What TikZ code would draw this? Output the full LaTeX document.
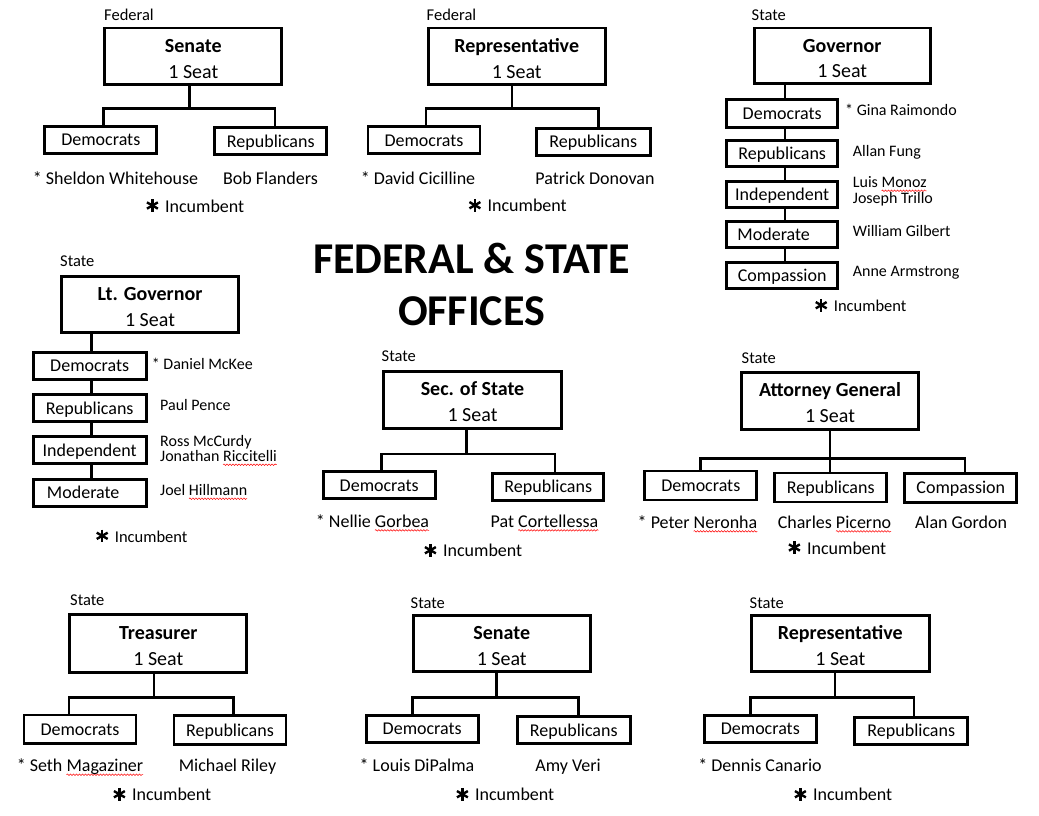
\documentclass[tikz,border=0pt]{standalone}
\usepackage{fontspec}
\setmainfont{Carlito}
\usetikzlibrary{decorations.pathmorphing}
\newdimen\sqwd
\newsavebox\sqwbox
\newcommand\sqw[1]{\leavevmode\sbox\sqwbox{#1}\sqwd=\wd\sqwbox\rlap{\tikz[overlay, baseline=0pt]\draw[red, line width=0.5pt, decorate, decoration={snake, amplitude=0.8pt, segment length=3pt}] (0pt,-3pt) -- (\sqwd,-3pt);}\usebox\sqwbox}
\newcommand\incmark{\tikz[baseline=0pt]{\foreach \a in {90,30,-30}\draw[line width=2.4pt, yshift=6.5pt] (\a:6.3pt) -- (\a+180:6.3pt);}\hspace{6pt}Incumbent}
\tikzset{
  big/.style={draw, line width=2.8pt, fill=white, align=center, inner sep=0pt,
    font=\fontsize{20}{25.6}\selectfont, text height=43.6pt, text depth=0pt},
  party/.style={draw, line width=2.8pt, fill=white, inner sep=0pt,
    minimum width=112, minimum height=27,
    font=\fontsize{18}{20}\selectfont, text height=12pt, text depth=0pt},
  conn/.style={line width=2.8pt},
  tag/.style={anchor=base west, inner sep=0pt, font=\fontsize{16.5}{18}\selectfont},
  cand/.style={anchor=base, inner sep=0pt, font=\fontsize{18}{20}\selectfont},
  side/.style={anchor=base west, inner sep=0pt, align=left, font=\fontsize{16}{15.5}\selectfont},
  inc/.style={anchor=base, inner sep=0pt, font=\fontsize{18}{20}\selectfont},
  incs/.style={anchor=base, inner sep=0pt, font=\fontsize{16.5}{18}\selectfont},
  title/.style={anchor=base, inner sep=0pt, align=center, font=\bfseries\fontsize{44}{51.7}\selectfont},
}
% #1 prefix, #2 stem xshift, #3 bar y, #4 dem xshift, #5 rep xshift
\newcommand\tree[5]{%
  \coordinate (#1-s) at ([xshift=#2]#1.south);
  \coordinate (#1-b) at (0,#3);
  \coordinate (#1-d) at ([xshift=#4]#1D.north);
  \coordinate (#1-r) at ([xshift=#5]#1R.north);
  \draw[conn] (#1-s) -- (#1-s |- #1-b);
  \draw[conn] (#1-d) |- (#1-r |- #1-b) -- (#1-r);
}
\begin{document}
\begin{tikzpicture}[x=1pt,y=-1pt]
\useasboundingbox (0,0) rectangle (1039,815);
\fill[white] (0,0) rectangle (1039,815);

% Title (base anchor = last line)
\node[title] (title) at (471.5,325) {FEDERAL \& STATE\\OFFICES};

% ---------- Federal Senate ----------
\node[tag] (fsT) at (104,20.7) {Federal};
\node[big, minimum width=177, minimum height=56.5] (fs) at (193.3,56.3) {\textbf{Senate}\\1 Seat};
\node[party] (fsD) at (100.8,139.7) {Democrats};
\node[party] (fsR) at (270.8,141.2) {Republicans};
\tree{fs}{-4}{108.3}{2.5}{4.2}
\node[cand] (fsDn) at (115.5,184) {* Sheldon Whitehouse};
\node[cand] (fsRn) at (270.5,184) {Bob Flanders};
\node[inc] (fsI) at (195,212) {\incmark};

% ---------- Federal Representative ----------
\node[tag] (frT) at (426.5,20.7) {Federal};
\node[big, minimum width=177, minimum height=56.5] (fr) at (516.7,56.3) {\textbf{Representative}\\1 Seat};
\node[party] (frD) at (424,140) {Democrats};
\node[party, minimum width=114] (frR) at (593.3,141.7) {Republicans};
\tree{fr}{-4.7}{108.3}{2}{5}
\node[cand] (frDn) at (418,184) {* David Cicilline};
\node[cand] (frRn) at (595,184) {Patrick Donovan};
\node[inc] (frI) at (517.5,211.7) {\incmark};

% ---------- Governor ----------
\node[tag] (govT) at (751.5,20.7) {State};
\node[big, minimum width=176, minimum height=55.5] (gov) at (842.2,55.8) {\textbf{Governor}\\1 Seat};
\node[party, minimum width=111, minimum height=28] (govD) at (782.2,113.8) {Democrats};
\node[party, minimum width=111, minimum height=26] (govR) at (782.2,153.8) {Republicans};
\node[party, minimum width=111, minimum height=26] (govI) at (782.2,194.2) {Independent};
\node[party, minimum width=111, minimum height=26] (govM) at (782.2,234.7) {Moderate\hspace*{17pt}};
\node[party, minimum width=111, minimum height=26] (govC) at (782.2,275.8) {Compassion};
\coordinate (govx) at (785,0);
\foreach \a/\b in {gov/govD, govD/govR, govR/govI, govI/govM, govM/govC}
  \draw[conn] (\a.south -| govx) -- (\b.north -| govx);
\node[side] (govDn) at (845,115) {* Gina Raimondo};
\node[side] (govRn) at (852.7,156) {Allan Fung};
\node[side] (govIn) at (852.7,203.3) {Luis \sqw{Monoz}\\Joseph Trillo};
\node[side] (govMn) at (852.7,236.7) {William Gilbert};
\node[side] (govCn) at (852.7,276.7) {Anne Armstrong};
\node[incs] (govInc) at (860.5,311.7) {\incmark};

% ---------- Lt. Governor ----------
\node[tag] (ltgT) at (60,266.7) {State};
\node[big, minimum width=177, minimum height=56] (ltg) at (150,304.5) {\textbf{Lt. Governor}\\1 Seat};
\node[party, minimum width=113] (ltgD) at (89.7,365.7) {Democrats};
\node[party, minimum width=113] (ltgR) at (89.7,408.3) {Republicans};
\node[party, minimum width=113] (ltgI) at (89.7,450) {Independent};
\node[party, minimum width=113] (ltgM) at (89.7,492.8) {Moderate\hspace*{13pt}};
\coordinate (ltgx) at (91.7,0);
\foreach \a/\b in {ltg/ltgD, ltgD/ltgR, ltgR/ltgI, ltgI/ltgM}
  \draw[conn] (\a.south -| ltgx) -- (\b.north -| ltgx);
\node[side] (ltgDn) at (151.7,369) {* Daniel McKee};
\node[side] (ltgRn) at (160,410) {Paul Pence};
\node[side] (ltgIn) at (160,461.7) {Ross McCurdy\\Jonathan \sqw{Riccitelli}};
\node[side] (ltgMn) at (160,495.7) {Joel \sqw{Hillmann}};
\node[incs] (ltgInc) at (141.5,542.3) {\incmark};

% ---------- Sec. of State ----------
\node[tag] (sosT) at (381.5,361.7) {State};
\node[big, minimum width=178, minimum height=57] (sos) at (472.5,399.7) {\textbf{Sec. of State}\\1 Seat};
\node[party, minimum width=112] (sosD) at (379.2,485) {Democrats};
\node[party, minimum width=111] (sosR) at (548.3,486.7) {Republicans};
\tree{sos}{-5.8}{454}{2.5}{6.7}
\node[cand] (sosDn) at (372.5,527.3) {* Nellie \sqw{Gorbea}};
\node[cand] (sosRn) at (544.5,527.3) {Pat \sqw{Cortellessa}};
\node[inc] (sosI) at (473,556.7) {\incmark};

% ---------- Attorney General ----------
\node[tag] (agT) at (741.5,363.3) {State};
\node[big, minimum width=177, minimum height=57] (ag) at (830,400.7) {\textbf{Attorney General}\\1 Seat};
\node[party, minimum height=29] (agD) at (700.8,485.5) {Democrats};
\node[party, minimum height=29] (agR) at (830.8,487.5) {Republicans};
\node[party, minimum height=29] (agC) at (960.8,487.8) {Compassion};
\coordinate (ag-b) at (0,458.3);
\coordinate (ag-c) at ([xshift=4.2]agC.north);
\draw[conn] (ag.south) -- (ag.south |- agR.north);
\draw[conn] (agD.north) |- (ag-c |- ag-b) -- (ag-c);
\node[cand] (agDn) at (697.5,528.3) {* Peter \sqw{Neronha}};
\node[cand] (agRn) at (834.5,528.3) {Charles \sqw{Picerno}};
\node[cand] (agCn) at (961,528.3) {Alan Gordon};
\node[inc] (agI) at (837,554) {\incmark};

% ---------- Treasurer ----------
\node[tag] (trsT) at (70,605.7) {State};
\node[big, minimum width=177, minimum height=58] (trs) at (158.3,643.7) {\textbf{Treasurer}\\1 Seat};
\node[party, minimum height=28.5] (trsD) at (80,729.2) {Democrats};
\node[party, minimum height=28.5] (trsR) at (230,730) {Republicans};
\tree{trs}{-4.3}{697.3}{-11}{3.3}
\node[cand] (trsDn) at (80,771.7) {* Seth \sqw{Magaziner}};
\node[cand] (trsRn) at (227.5,771.7) {Michael Riley};
\node[inc] (trsI) at (162,800.7) {\incmark};

% ---------- State Senate ----------
\node[tag] (ssT) at (410.5,608.3) {State};
\node[big, minimum width=177, minimum height=56] (ss) at (501.7,643.3) {\textbf{Senate}\\1 Seat};
\node[party, minimum width=112] (ssD) at (422.2,728.7) {Democrats};
\node[party, minimum width=113] (ssR) at (573.8,730) {Republicans};
\tree{ss}{-5}{697.3}{-9.5}{4.5}
\node[cand] (ssDn) at (417,771.7) {* Louis DiPalma};
\node[cand] (ssRn) at (568,771.7) {Amy Veri};
\node[inc] (ssI) at (505,800.7) {\incmark};

% ---------- State Representative ----------
\node[tag] (srT) at (749.5,608.3) {State};
\node[big, minimum width=178, minimum height=56] (sr) at (840.3,643.7) {\textbf{Representative}\\1 Seat};
\node[party, minimum width=112] (srD) at (760.3,728.7) {Democrats};
\node[party, minimum width=113] (srR) at (911.3,730.8) {Republicans};
\tree{sr}{-5.3}{697.3}{-9.6}{2.7}
\node[cand] (srDn) at (760,771.7) {* Dennis Canario};
\node[inc] (srI) at (843,800.7) {\incmark};
\end{tikzpicture}
\end{document}
